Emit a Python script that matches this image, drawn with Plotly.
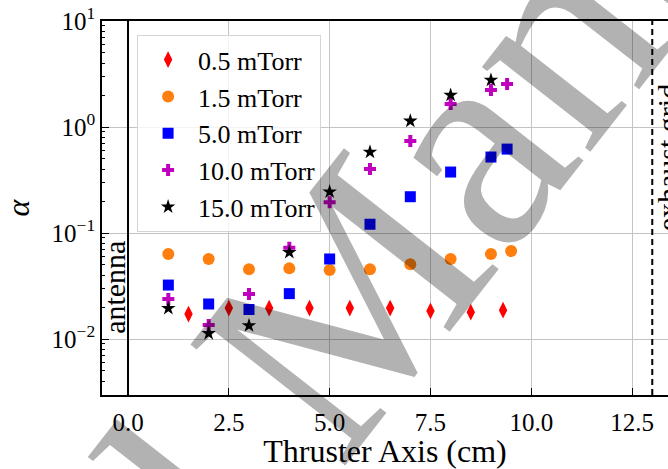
import plotly.graph_objects as go

# ---------------- data ----------------
x_05 = [1.5, 2.5, 3.5, 4.5, 5.5, 6.5, 7.5, 8.5, 9.3]
a_05 = [0.0172, 0.0196, 0.0196, 0.0196, 0.0196, 0.0196, 0.0184, 0.0179, 0.0187]

x_15 = [1, 2, 3, 4, 5, 6, 7, 8, 9, 9.5]
a_15 = [0.0634, 0.0569, 0.0455, 0.0464, 0.0448, 0.0455, 0.0507, 0.0569, 0.0634, 0.0676]

x_50 = [1, 2, 3, 4, 5, 6, 7, 8, 9, 9.4]
a_50 = [0.0323, 0.0214, 0.0190, 0.0268, 0.0569, 0.121, 0.220, 0.376, 0.521, 0.619]

x_100 = [1, 2, 3, 4, 5, 6, 7, 8, 9, 9.4]
a_100 = [0.0238, 0.01355, 0.0266, 0.0726, 0.195, 0.402, 0.738, 1.65, 2.23, 2.55]

x_150 = [1, 2, 3, 4, 5, 6, 7, 8, 9]
a_150 = [0.0195, 0.0113, 0.0134, 0.0658, 0.245, 0.581, 1.14, 2.0, 2.77]

series_names = ["0.5 mTorr", "1.5 mTorr", "5.0 mTorr", "10.0 mTorr", "15.0 mTorr"]

x_tickvals = [0, 2.5, 5, 7.5, 10, 12.5]
x_ticktext = ["0.0", "2.5", "5.0", "7.5", "10.0", "12.5"]
y_tickvals = [0.01, 0.1, 1, 10]
y_ticktext = ["10<sup>\u22122</sup>", "10<sup>\u22121</sup>", "10<sup>0</sup>", "10<sup>1</sup>"]

ANTENNA_X = 0.0
GRID_X = 13.0

FONT = "Liberation Serif"

# ---------------- figure ----------------
fig = go.Figure()

styles = [
    dict(symbol="diamond-tall", size=12, color="#ff0000"),
    dict(symbol="circle", size=12, color="#ff7f0e"),
    dict(symbol="square", size=11, color="#0000ff"),
    dict(symbol="cross", size=10, color="#bf00bf"),
    dict(symbol="star", size=11, color="#000000"),
]
xs = [x_05, x_15, x_50, x_100, x_150]
ys = [a_05, a_15, a_50, a_100, a_150]

for xv, yv, name, st in zip(xs, ys, series_names, styles):
    fig.add_trace(go.Scatter(
        x=xv, y=yv, mode="markers", name=name,
        marker=dict(symbol=st["symbol"], size=st["size"], color=st["color"],
                    line=dict(width=0)),
    ))

minor_vals = [m * 10 ** e for e in range(-3, 1) for m in range(2, 10)]

fig.add_shape(type="line", xref="x", yref="paper", x0=ANTENNA_X, x1=ANTENNA_X, y0=0, y1=1,
              line=dict(color="black", width=2))
fig.add_shape(type="line", xref="x", yref="paper", x0=GRID_X, x1=GRID_X, y0=0, y1=1,
              line=dict(color="black", width=2, dash="6px,4px"))

fig.add_annotation(text="antenna", x=ANTENNA_X, y=-1.97, xref="x", yref="y",
                   xanchor="right", yanchor="bottom", textangle=-90, showarrow=False,
                   font=dict(family=FONT, size=30, color="black"), xshift=5)
fig.add_annotation(text="exhaust grid", x=GRID_X, y=-1.0, xref="x", yref="y",
                   xanchor="left", yanchor="bottom", textangle=-90, showarrow=False,
                   font=dict(family=FONT, size=30, color="black"), xshift=-3)

# watermark
fig.add_annotation(text="Accepted Manuscript", x=0.367, y=0.128, xref="paper", yref="paper",
                   xanchor="center", yanchor="middle", textangle=-52, showarrow=False,
                   font=dict(family=FONT, size=300, color="rgba(0,0,0,0.3)"))

fig.update_layout(
    width=668, height=469,
    margin=dict(l=102, r=0, t=21, b=74, autoexpand=False),
    paper_bgcolor="white", plot_bgcolor="white",
    font=dict(family=FONT, size=25, color="black"),
    showlegend=True,
    legend=dict(x=0.062, y=0.962, xanchor="left", yanchor="top",
                bgcolor="rgba(255,255,255,0.8)", bordercolor="#d5d5d5", borderwidth=1,
                font=dict(family=FONT, size=26, color="black"),
                itemwidth=50, tracegroupgap=0),
    xaxis=dict(range=[-0.645, 13.39], tickvals=x_tickvals, ticktext=x_ticktext,
               ticks="inside", ticklen=7, tickwidth=1.2, tickcolor="black",
               showline=True, linecolor="black", linewidth=1.6, mirror=True,
               showgrid=True, gridcolor="#c4c4c4", gridwidth=1, zeroline=False,
               ticklabelstandoff=4, automargin=False,
               tickfont=dict(family=FONT, size=25),
               title=dict(text="Thruster Axis (cm)", font=dict(family=FONT, size=32), standoff=2)),
    yaxis=dict(type="log", range=[-2.528, 1.0], tickvals=y_tickvals, ticktext=y_ticktext,
               ticks="inside", ticklen=7, tickwidth=1.2, tickcolor="black",
               showline=True, linecolor="black", linewidth=1.6, mirror=False,
               showgrid=True, gridcolor="#c4c4c4", gridwidth=1, zeroline=False,
               automargin=False, tickfont=dict(family=FONT, size=25),
               minor=dict(tickvals=minor_vals, ticks="inside", ticklen=3.5, tickcolor="black",
                          tickwidth=1, showgrid=False),
               title=dict(text="<i>\u03b1</i>", font=dict(family=FONT, size=32), standoff=16)),
)

fig.write_html("out.html", config={"displayModeBar": False},
               post_script="document.body.style.margin='0';document.body.style.padding='0';")
